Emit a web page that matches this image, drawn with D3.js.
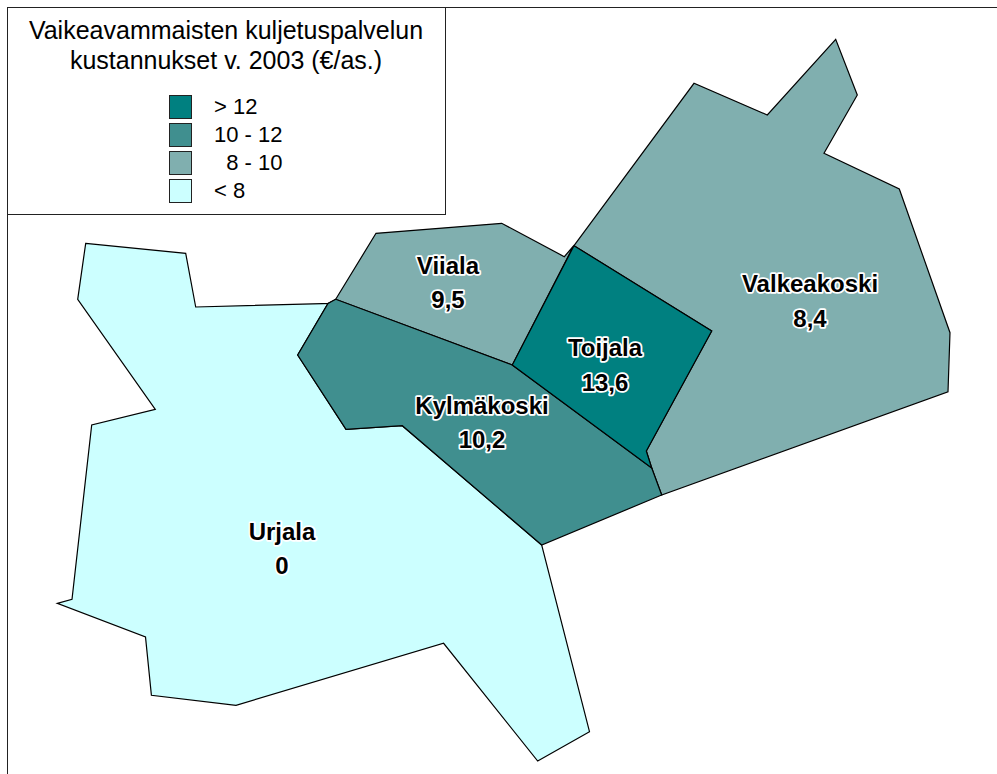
<!DOCTYPE html>
<html>
<head>
<meta charset="utf-8">
<script src="https://cdn.jsdelivr.net/npm/d3@7"></script>
<style>
body { margin: 0; background: #fff; }
svg { display: block; }
text { font-family: "Liberation Sans", Arial, sans-serif; fill: #000; }
.legend-label { white-space: pre; }
.name, .value { font-weight: bold; stroke: #fff; stroke-width: 3.5; stroke-linejoin: round; paint-order: stroke; }
</style>
</head>
<body>
<div class="chart"></div>
<script>
const w = 997;
const h = 774;

// municipalities, back to front as they overlap in the picture
const names = ["Urjala", "Valkeakoski", "Viiala", "Kylmäkoski", "Toijala"];
const values = [0, 8.4, 9.5, 10.2, 13.6];

// outlines
const urjala = [[85.7,243.3],[185.7,253.3],[195.7,307],[332,303.3],[336,299.3],[328,303.5],[297.7,355],[346,429.3],[402.3,425.7],[541.7,545],[589.5,731.7],[537.7,761],[443.6,643.3],[236,705.3],[151.4,695.3],[145.5,637],[57.3,603.3],[72,599.3],[91.7,425],[155.3,409.3],[77.7,299.3]];
const valkeakoski = [[574,245.7],[694,83.3],[767.3,115],[835.7,39.3],[857.3,95],[824,153.3],[899.3,189],[950,332.7],[948,391.7],[661.7,495],[651.7,468],[646.3,451],[711.7,331]];
const viiala = [[335.7,299.3],[376,233.3],[501.7,223.3],[564.3,256.7],[573.5,246],[512.3,365]];
const kylmakoski = [[335.7,299.3],[328,303.5],[297.7,355],[346,429.3],[402.3,425.7],[541.7,545],[661.7,495],[651.7,468],[512.3,365]];
const toijala = [[574,245.7],[711.7,331],[646.3,451],[651.7,468],[512.3,365]];
const outlines = [urjala, valkeakoski, viiala, kylmakoski, toijala];

const nameX = [282, 810, 448, 482, 605];
const nameY = [540, 292, 274, 414, 356];
const valueY = [574, 327, 308, 448, 391];

const titleLines = ["Vaikeavammaisten kuljetuspalvelun", "kustannukset v. 2003 (€/as.)"];
const legendLabels = ["> 12", "10 - 12", "  8 - 10", "< 8"];
const breaks = [8, 10, 12];
const colors = ["#ccffff", "#80afaf", "#408f8f", "#008080"];

const color = d3.scaleThreshold().domain(breaks).range(colors);
const x = d3.scaleIdentity();
const y = d3.scaleIdentity();
const outline = d3.line().x(d => x(d[0])).y(d => y(d[1])).curve(d3.curveLinearClosed);

const svg = d3.select(".chart")
    .append("svg")
    .attr("width", w)
    .attr("height", h);

// frame round the map, and the legend box in its corner
svg.append("path")
    .attr("d", "M7.5,774V7.5H997")
    .attr("fill", "none")
    .attr("stroke", "#222");

svg.append("rect")
    .attr("x", 7.5)
    .attr("y", 7.5)
    .attr("width", 438)
    .attr("height", 207)
    .attr("fill", "#fff")
    .attr("stroke", "#222");

svg.selectAll("text.title")
    .data(titleLines)
    .enter()
    .append("text")
    .attr("class", "title")
    .attr("x", 226)
    .attr("y", (d, i) => 39 + i * 30)
    .attr("text-anchor", "middle")
    .style("font-size", "25px")
    .text(d => d);

const rowY = d3.scalePoint().domain(legendLabels).range([95.5, 179.5]);

const legend = svg.append("g")
    .attr("id", "legend")
    .selectAll("g")
    .data(legendLabels)
    .enter()
    .append("g")
    .attr("transform", d => `translate(0,${rowY(d)})`);

legend.append("rect")
    .attr("x", 169.5)
    .attr("width", 22)
    .attr("height", 23)
    .attr("fill", (d, i) => colors[colors.length - 1 - i])
    .attr("stroke", "#222");

legend.append("text")
    .attr("class", "legend-label")
    .attr("x", 214)
    .attr("y", 18)
    .style("font-size", "22px")
    .text(d => d);

svg.selectAll("path.area")
    .data(outlines)
    .enter()
    .append("path")
    .attr("class", "area")
    .attr("d", outline)
    .attr("fill", (d, i) => color(values[i]))
    .attr("stroke", "#000")
    .attr("stroke-width", 1.2)
    .attr("stroke-linejoin", "miter");

svg.selectAll("text.name")
    .data(names)
    .enter()
    .append("text")
    .attr("class", "name")
    .attr("x", (d, i) => nameX[i])
    .attr("y", (d, i) => nameY[i])
    .attr("text-anchor", "middle")
    .style("font-size", "24px")
    .text(d => d);

svg.selectAll("text.value")
    .data(values)
    .enter()
    .append("text")
    .attr("class", "value")
    .attr("x", (d, i) => nameX[i])
    .attr("y", (d, i) => valueY[i])
    .attr("text-anchor", "middle")
    .style("font-size", "24px")
    .text(d => String(d).replace(".", ","));
</script>
</body>
</html>
